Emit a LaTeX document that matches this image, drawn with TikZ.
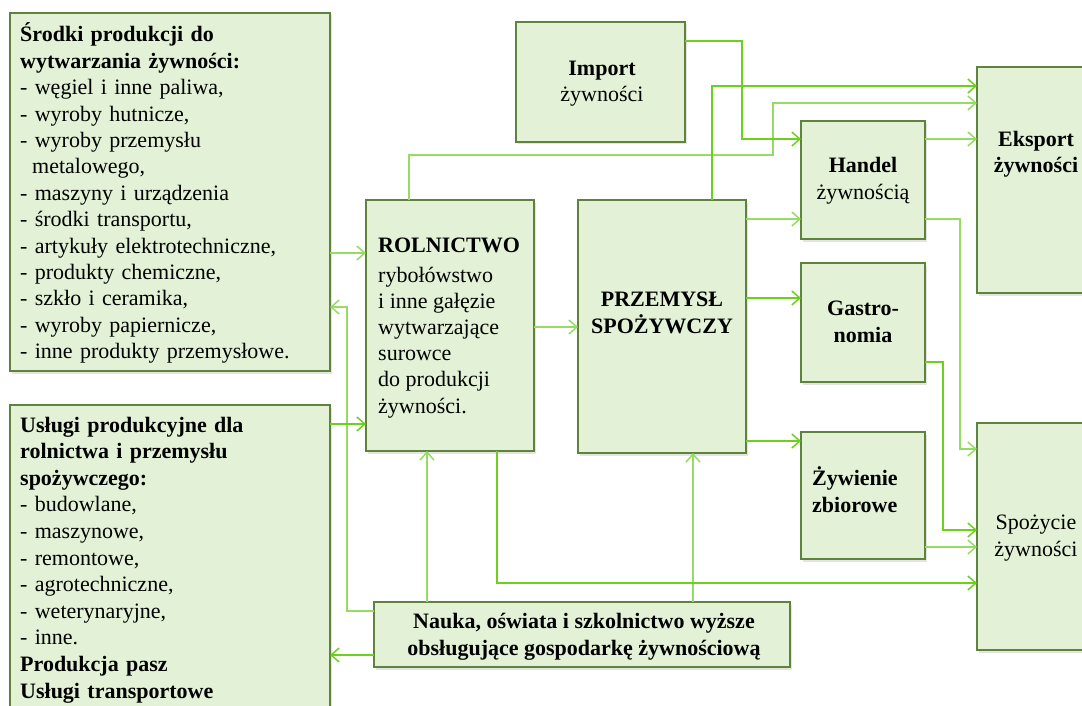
\documentclass[tikz,border=0pt]{standalone}
\usepackage{fontspec}
\setmainfont{Liberation Serif}
\usetikzlibrary{arrows.meta,shadows}
\definecolor{boxfill}{RGB}{227,242,214}
\definecolor{boxline}{RGB}{95,130,60}
\definecolor{lnbright}{RGB}{108,208,28}
\definecolor{lnpale}{RGB}{148,220,100}
\begin{document}
\begin{tikzpicture}[x=1pt,y=-1pt,
  box/.style={draw=boxline,fill=boxfill,line width=1.6pt,inner sep=0pt,outer sep=0pt,
    drop shadow={shadow xshift=1.5pt,shadow yshift=-2.5pt,fill=black!30,opacity=0.35}},
  txt/.style={inner sep=0pt,font=\fontsize{22}{26.2}\selectfont},
  conn/.style={draw=lnbright,line width=1.8pt,-{Straight Barb[length=8pt,width=14pt,line width=1.5pt]}},
  connp/.style={conn,draw=lnpale,line width=2.8pt},
]
\useasboundingbox (0,0) rectangle (1082,706);
\clip (0,0) rectangle (1082,706);

% boxes
\node[box,minimum width=320pt,minimum height=358pt] (b1) at (170,192) {};
\node[box,minimum width=320pt,minimum height=315pt] (b2) at (170,562.5) {};
\node[box,minimum width=168pt,minimum height=251pt] (rol) at (450,325.5) {};
\node[box,minimum width=168pt,minimum height=253pt] (prz) at (662,326.5) {};
\node[box,minimum width=169pt,minimum height=120pt] (imp) at (600.5,82) {};
\node[box,minimum width=124pt,minimum height=118pt] (han) at (863,180) {};
\node[box,minimum width=124pt,minimum height=119pt] (gas) at (863,322.5) {};
\node[box,minimum width=124pt,minimum height=127pt] (zyw) at (863,495.5) {};
\node[box,minimum width=133pt,minimum height=226pt] (eks) at (1043.5,180) {};
\node[box,minimum width=133pt,minimum height=227pt] (spo) at (1043.5,536.5) {};
\node[box,minimum width=416pt,minimum height=65pt] (nau) at (582,634.5) {};

% texts
\node[txt,anchor=base west,text width=305pt,align=left,font=\fontsize{22}{26.4}\selectfont] (b1t) at (20,42)
 {\textbf{Środki produkcji do}\\
  \textbf{wytwarzania żywności:}\\
  - węgiel i inne paliwa,\\
  - wyroby hutnicze,\\
  - wyroby przemysłu\\
  \hspace*{12pt}metalowego,\\
  - maszyny i urządzenia\\
  - środki transportu,\\
  - artykuły elektrotechniczne,\\
  - produkty chemiczne,\\
  - szkło i ceramika,\\
  - wyroby papiernicze,\\
  - inne produkty przemysłowe.};
\node[txt,anchor=base west,text width=305pt,align=left,font=\fontsize{22}{26.6}\selectfont] (b2t) at (20,432)
 {\textbf{Usługi produkcyjne dla}\\
  \textbf{rolnictwa i przemysłu}\\
  \textbf{spożywczego:}\\
  - budowlane,\\
  - maszynowe,\\
  - remontowe,\\
  - agrotechniczne,\\
  - weterynaryjne,\\
  - inne.\\
  \textbf{Produkcja pasz}\\
  \textbf{Usługi transportowe}};
% anchor=base of these multi-line nodes is the baseline of their last line
\node[txt,anchor=base west,align=left] (rolt) at (378,413)
 {\textbf{ROLNICTWO}\\[3pt]
  rybołówstwo\\
  i inne gałęzie\\
  wytwarzające\\
  surowce\\
  do produkcji\\
  żywności.};
\node[txt,anchor=base,align=center] (przt) at (662,333) {\textbf{PRZEMYSŁ}\\ \textbf{SPOŻYWCZY}};
\node[txt,anchor=base,align=center] (impt) at (602,102) {\textbf{Import}\\ żywności};
\node[txt,anchor=base,align=center] (hant) at (863,199) {\textbf{Handel}\\ żywnością};
\node[txt,anchor=base,align=center] (gast) at (863,342) {\textbf{Gastro-}\\ \textbf{nomia}};
\node[txt,anchor=base west,align=left] (zywt) at (812,512) {\textbf{Żywienie}\\ \textbf{zbiorowe}};
\node[txt,anchor=base,align=center] (ekst) at (1036,173) {\textbf{Eksport}\\ \textbf{żywności}};
\node[txt,anchor=base,align=center] (spot) at (1036,556) {Spożycie\\ żywności};
\node[txt,anchor=base,align=center] (naut) at (584,655) {\textbf{Nauka, oświata i szkolnictwo wyższe}\\ \textbf{obsługujące gospodarkę żywnościową}};

% connectors
\draw[connp] (b1.east |- 0,253) -- (rol.west |- 0,253);
\draw[connp] (nau.west |- 0,611) -- (347,611) -- (347,307) -- (b1.east |- 0,307);
\draw[conn] (b2.east |- 0,424) -- (rol.west |- 0,424);
\draw[conn] (nau.west |- 0,655) -- (b2.east |- 0,655);
\draw[connp] (nau.north -| 427,0) -- (rol.south -| 427,0);
\draw[connp] (nau.north -| 693,0) -- (prz.south -| 693,0);
\draw[conn] (rol.south -| 497,0) -- (497,583) -- (spo.west |- 0,583);
\draw[connp] (rol.east |- 0,327) -- (prz.west |- 0,327);
\draw[connp] (rol.north -| 409,0) -- (409,155) -- (773,155) -- (773,103) -- (eks.west |- 0,103);
\draw[conn] (prz.north -| 712,0) -- (712,86) -- (eks.west |- 0,86);
\draw[conn] (imp.east |- 0,41) -- (742,41) -- (742,139) -- (han.west |- 0,139);
\draw[connp] (prz.east |- 0,219) -- (han.west |- 0,219);
\draw[conn] (prz.east |- 0,298) -- (gas.west |- 0,298);
\draw[conn] (prz.east |- 0,441) -- (zyw.west |- 0,441);
\draw[connp] (han.east |- 0,139) -- (eks.west |- 0,139);
\draw[connp] (han.east |- 0,219) -- (960,219) -- (960,449) -- (spo.west |- 0,449);
\draw[conn] (gas.east |- 0,362) -- (943,362) -- (943,530) -- (spo.west |- 0,530);
\draw[connp] (zyw.east |- 0,547) -- (spo.west |- 0,547);
\end{tikzpicture}
\end{document}
